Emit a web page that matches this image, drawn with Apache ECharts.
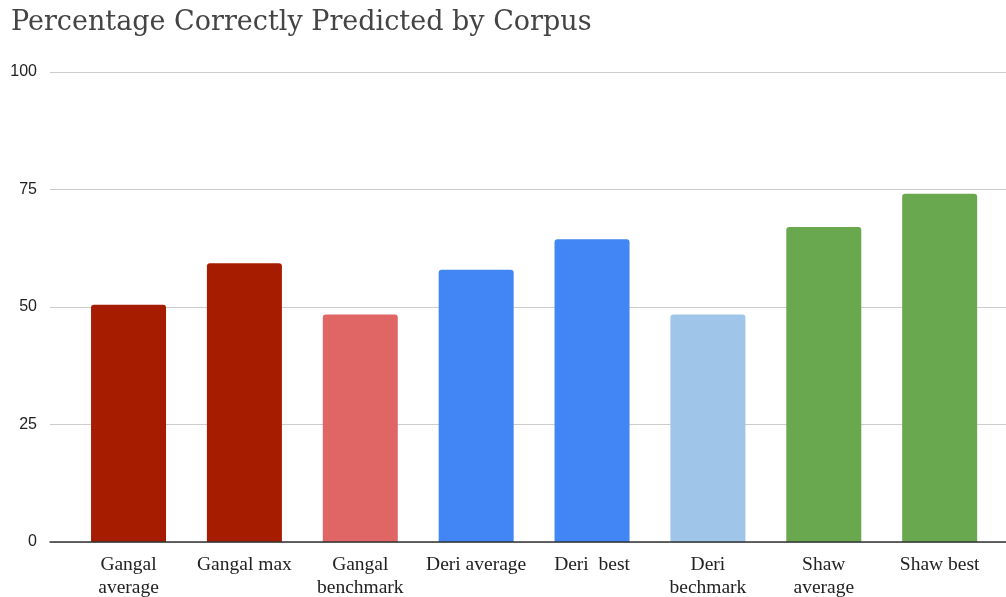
<!DOCTYPE html>
<html><head><meta charset="utf-8">
<script src="https://cdn.jsdelivr.net/npm/echarts@6/dist/echarts.min.js"></script>
<style>html,body{margin:0;padding:0;background:#fff}#c{width:1006px;height:597px}</style>
</head><body><div id="c"></div>
<script>
const categories = ["Gangal\naverage", "Gangal max", "Gangal\nbenchmark", "Deri average", "Deri  best", "Deri\nbechmark", "Shaw\naverage", "Shaw best"];
const values = [50.5, 59.3, 48.4, 57.9, 64.4, 48.4, 67.0, 74.1];
const barColors = ["#a61c00", "#a61c00", "#e06666", "#4285f4", "#4285f4", "#9fc5e8", "#6aa84f", "#6aa84f"];
const yTicks = { min: 0, max: 100, interval: 25 };

const chart = echarts.init(document.getElementById('c'));
chart.setOption({
  animation: false,
  title: {
    text: 'Percentage Correctly Predicted by Corpus',
    left: 6, top: 4,
    textStyle: { fontFamily: 'DejaVu Serif', fontSize: 27, fontWeight: 'normal', color: '#444' }
  },
  grid: [
    { left: 50, right: 0, top: 72, bottom: 55, outerBoundsMode: 'none', containLabel: false },
    { left: 70.6, right: 8.4, top: 72, bottom: 55, outerBoundsMode: 'none', containLabel: false }
  ],
  xAxis: [
    { gridIndex: 0, type: 'value', min: 0, max: 1, z: 10,
      axisLine: { show: true, onZero: false, lineStyle: { color: '#333', width: 1.5 } },
      axisTick: { show: false }, axisLabel: { show: false }, splitLine: { show: false } },
    { gridIndex: 1, type: 'category', data: categories,
      axisLine: { show: false }, axisTick: { show: false },
      axisLabel: { interval: 0, margin: 11, fontFamily: 'Liberation Serif', fontSize: 19.5, lineHeight: 23, color: '#222' } }
  ],
  yAxis: [
    { gridIndex: 0, type: 'value', min: yTicks.min, max: yTicks.max, interval: yTicks.interval,
      axisLine: { show: false }, axisTick: { show: false },
      axisLabel: { margin: 13, fontFamily: 'Liberation Sans', fontSize: 16, color: '#222' },
      splitLine: { lineStyle: { color: '#cccccc', width: 1 } } },
    { gridIndex: 1, type: 'value', min: yTicks.min, max: yTicks.max, interval: yTicks.interval, show: false,
      splitLine: { show: false } }
  ],
  series: [{
    type: 'bar', xAxisIndex: 1, yAxisIndex: 1,
    barWidth: 75,
    data: values.map((v, i) => ({ value: v, itemStyle: { color: barColors[i] } })),
    itemStyle: { borderRadius: [3, 3, 0, 0] }
  }]
});
</script></body></html>
